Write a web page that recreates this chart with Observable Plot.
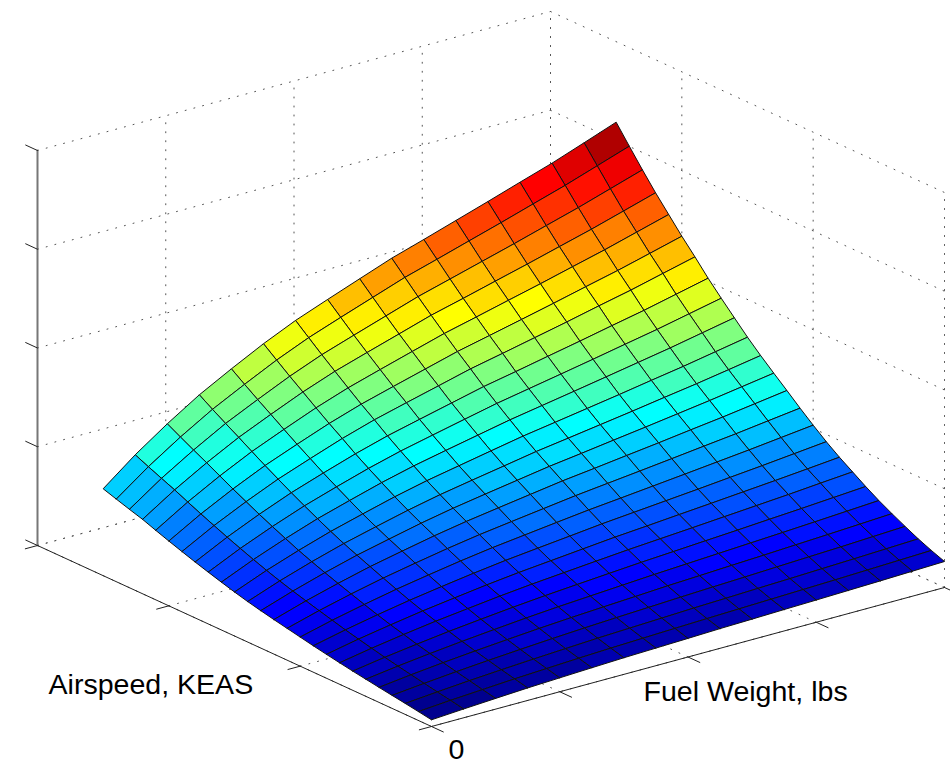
<!DOCTYPE html>
<html>
<head>
<meta charset="utf-8">
<style>html,body{margin:0;padding:0;background:#fff}svg{display:block}</style>
<script src="https://cdn.jsdelivr.net/npm/d3@7"></script>
<script src="https://cdn.jsdelivr.net/npm/@observablehq/plot@0.6"></script>
</head>
<body>
<div id="chart"></div>
<script>
// Surface grid: airspeed steps (axis runs 0-30), fuel steps (axis runs 0-16)
const airspeedSteps = [0,1,2,3,4,5,6,7,8,9,10,11,12,13,14,15,16,17,18,19,20,21,22,23,24,25];
const fuelSteps = [0,1,2,3,4,5,6,7,8,9,10,11,12,13,14,15,16];
const airspeedTicks = [0,10,20,30];
const fuelTicks = [0,4,8,12,16];
const heightTicks = [0,98.75,197.5,296.25,395];
const airspeedMax = 30, fuelMax = 16, heightMax = 395;

// Surface height, one row per airspeed step, one column per fuel step
const heights = [
[6.7,8.8,10.7,12.5,13.9,15.3,16.6,17.6,18.6,19.7,20.5,21.4,22.2,23.1,24,25,26],
[8.9,11.4,13.5,15.5,17.2,18.8,20.2,21.4,22.6,23.7,24.7,25.7,26.7,27.7,28.8,29.9,31],
[11,13.8,16.4,18.6,20.6,22.4,24.1,25.5,26.8,28.2,29.3,30.5,31.6,32.8,34,35.3,36.6],
[13,16.3,19.3,21.9,24.2,26.4,28.3,30,31.5,33.1,34.5,35.8,37.2,38.6,39.9,41.5,43],
[15,18.9,22.3,25.3,28,30.5,32.7,34.6,36.4,38.3,39.8,41.4,42.9,44.6,46.2,47.9,49.7],
[17.1,21.5,25.4,28.9,32,34.9,37.4,39.5,41.6,43.7,45.5,47.3,49.1,50.9,52.8,54.8,56.8],
[19.2,24.3,28.7,32.8,36.3,39.6,42.5,45,47.4,49.8,51.8,53.9,55.9,58.1,60.2,62.5,64.8],
[21.5,27.3,32.4,37,40.9,44.7,48,50.8,53.6,56.3,58.6,60.9,63.3,65.7,68.1,70.8,73.4],
[23.9,30.4,36,41.2,45.6,49.9,53.6,56.7,59.8,62.9,65.4,68.1,70.7,73.4,76.1,79,82],
[26.4,33.6,40,45.8,50.8,55.5,59.7,63.2,66.6,70.1,73,75.9,78.8,81.9,84.9,88.2,91.5],
[29.1,37.2,44.3,50.8,56.4,61.7,66.4,70.3,74.2,78,81.2,84.5,87.8,91.2,94.6,98.3,102],
[31.8,40.8,48.8,56,62.2,68.1,73.3,77.7,82,86.3,89.9,93.5,97.2,101,104.7,108.9,113],
[34.5,44.5,53.3,61.4,68.2,74.8,80.5,85.4,90.2,95,98.9,103,107,111.3,115.4,120,124.6],
[37.4,48.3,58,66.8,74.2,81.4,87.7,93.1,98.3,103.5,107.8,112.3,116.7,121.3,125.9,130.9,135.9],
[40.5,52.4,62.9,72.4,80.5,88.3,95.2,101,106.6,112.3,117,121.8,126.6,131.7,136.6,142,147.5],
[44,56.9,68.2,78.5,87.3,95.8,103.2,109.4,115.6,121.7,126.8,132,137.2,142.7,148,153.9,159.8],
[47.8,61.7,74,85.2,94.7,103.9,111.9,118.7,125.3,131.9,137.5,143.1,148.8,154.6,160.4,166.8,173.2],
[51.8,66.8,80,92,102.3,112.1,120.7,128,135.2,142.3,148.3,154.3,160.4,166.7,172.9,179.8,186.7],
[55.9,72,86.2,99.1,110.1,120.6,129.9,137.7,145.4,153.1,159.4,166,172.5,179.3,185.9,193.3,200.7],
[60.3,77.6,92.8,106.7,118.5,129.9,139.9,148.3,156.5,164.8,171.6,178.6,185.6,193,200.1,208.1,216],
[64.8,83.2,99.5,114.2,126.8,138.9,149.5,158.5,167.3,176.1,183.4,190.8,198.3,206.1,213.7,222.1,230.6],
[69.5,89.1,106.5,122.2,135.6,148.5,159.8,169.4,178.8,188.1,195.9,203.9,211.8,220.1,228.3,237.3,246.3],
[74.4,95.2,113.6,130.3,144.6,158.3,170.3,180.4,190.3,200.3,208.5,217,225.4,234.2,242.9,252.4,262],
[78.4,100.7,120.3,138.2,153.4,168,180.9,191.7,202.3,212.9,221.8,230.8,239.8,249.2,258.5,268.7,278.9],
[82.6,106.3,127.3,146.3,162.6,178.2,191.9,203.5,214.8,226.1,235.5,245.2,254.8,264.8,274.7,285.6,296.5],
[86.9,112.2,134.5,154.8,172.1,188.5,203.1,215.4,227.4,239.3,249.3,259.6,269.9,280.5,290.9,302.6,314.5]
];

// Orthographic view of the axes box
const view = {ox: 431, oy: 726, ax: -394, ay: -181, bx: 513, by: -139, h: -395};
const sx = (a, b) => view.ox + (a / airspeedMax) * view.ax + (b / fuelMax) * view.bx;
const sy = (a, b, z) => view.oy + (a / airspeedMax) * view.ay + (b / fuelMax) * view.by + (z / heightMax) * view.h;
const pt = (id, a, b, z, extra = {}) => ({id, x: sx(a, b), y: sy(a, b, z), ...extra});
const seg = (id, p, q) => [pt(id, ...p), pt(id, ...q)];

// Jet colormap, 64 levels
const jetRamp = d3.scaleLinear()
  .domain([1, 8, 24, 40, 56, 64])
  .range(["#00008f", "#0000ff", "#00ffff", "#ffff00", "#ff0000", "#800000"]);
const jet = d3.range(1, 65).map((i) => d3.rgb(jetRamp(i)).formatHex());
const zMin = d3.min(heights.flat()), zMax = d3.max(heights.flat());
const jetThresholds = d3.range(1, 64).map((n) => zMin + (n / 64) * (zMax - zMin));

// Facets, painted from the back corner forward
const facets = [];
for (let i = airspeedSteps.length - 2; i >= 0; --i) {
  for (let j = fuelSteps.length - 2; j >= 0; --j) {
    const id = `${i}-${j}`;
    const value = heights[i][j + 1];
    const corners = [[i, j], [i + 1, j], [i + 1, j + 1], [i, j + 1], [i, j]];
    for (const [r, c] of corners) {
      facets.push(pt(id, airspeedSteps[r], fuelSteps[c], heights[r][c], {value}));
    }
  }
}

// Dotted grid on the two back walls and the floor
const grid = [];
let g = 0;
for (const z of heightTicks) {
  grid.push(...seg(g++, [airspeedMax, 0, z], [airspeedMax, fuelMax, z]));
  grid.push(...seg(g++, [airspeedMax, fuelMax, z], [0, fuelMax, z]));
}
for (const b of fuelTicks) {
  grid.push(...seg(g++, [airspeedMax, b, 0], [airspeedMax, b, heightMax]));
  grid.push(...seg(g++, [0, b, 0], [airspeedMax, b, 0]));
}
for (const a of airspeedTicks) {
  grid.push(...seg(g++, [a, fuelMax, 0], [a, fuelMax, heightMax]));
  grid.push(...seg(g++, [a, 0, 0], [a, fuelMax, 0]));
}

// Solid axis lines and tick marks
const axisLines = [
  ...seg("air", [0, 0, 0], [airspeedMax, 0, 0]),
  ...seg("fuel", [0, 0, 0], [0, fuelMax, 0])
];
const heightAxis = seg("h", [airspeedMax, 0, 0], [airspeedMax, 0, heightMax]);
const ticks = [];
let t = 0;
const tickA = 0.9, tickB = 0.38;
for (const a of airspeedTicks) ticks.push(...seg(`t${t++}`, [a, 0, 0], [a, -tickB, 0]));
for (const b of fuelTicks) ticks.push(...seg(`t${t++}`, [0, b, 0], [-tickA, b, 0]));
for (const z of heightTicks) ticks.push(...seg(`t${t++}`, [airspeedMax, 0, z], [airspeedMax + tickA, 0, z]));

const labels = [
  {text: "Airspeed, KEAS", x: 48, y: 695},
  {text: "Fuel Weight, lbs", x: 643, y: 702},
  {text: "0", x: 448, y: 760}
];

const font = {fontFamily: "Liberation Sans, Arial, sans-serif", fontSize: 28.55};

const plot = Plot.plot({
  width: 950,
  height: 761,
  margin: 0,
  style: {background: "#fff"},
  x: {domain: [0, 950], range: [0, 950], axis: null},
  y: {domain: [0, 761], range: [0, 761], axis: null},
  color: {type: "threshold", domain: jetThresholds, range: jet},
  marks: [
    Plot.line(grid, {x: "x", y: "y", z: "id", stroke: "#555", strokeWidth: 1, strokeDasharray: "1,8"}),
    Plot.line(heightAxis, {x: "x", y: "y", z: "id", stroke: "#777", strokeWidth: 2}),
    Plot.line(axisLines, {x: "x", y: "y", z: "id", stroke: "#222", strokeWidth: 1}),
    Plot.line(ticks, {x: "x", y: "y", z: "id", stroke: "#222", strokeWidth: 1}),
    Plot.line(facets, {x: "x", y: "y", z: "id", fill: "value", stroke: "#111", strokeWidth: 1, strokeLinejoin: "round"}),
    Plot.text(labels, {x: "x", y: "y", text: "text", textAnchor: "start", lineAnchor: "bottom", fill: "#000", dy: -2, ...font})
  ]
});
document.getElementById("chart").append(plot);
</script>
</body>
</html>
